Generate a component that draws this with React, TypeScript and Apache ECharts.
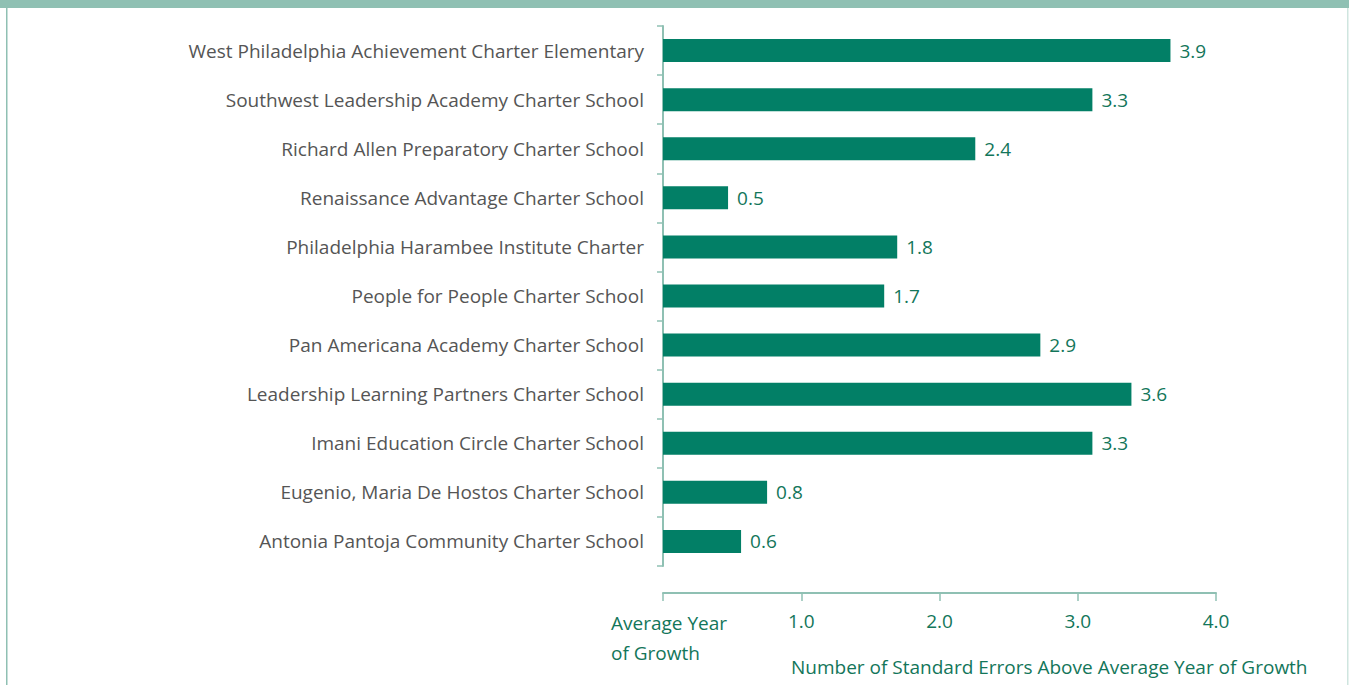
import React, { useEffect, useRef } from "react";
import * as echarts from "echarts";

const schools = [
  "West Philadelphia Achievement Charter Elementary",
  "Southwest Leadership Academy Charter School",
  "Richard Allen Preparatory Charter School",
  "Renaissance Advantage Charter School",
  "Philadelphia Harambee Institute Charter",
  "People for People Charter School",
  "Pan Americana Academy Charter School",
  "Leadership Learning Partners Charter School",
  "Imani Education Circle Charter School",
  "Eugenio, Maria De Hostos Charter School",
  "Antonia Pantoja Community Charter School",
];
const values = [3.9, 3.3, 2.4, 0.5, 1.8, 1.7, 2.9, 3.6, 3.3, 0.8, 0.6];
const tickLabels = ["Average Year\nof Growth", "1.0", "2.0", "3.0", "4.0"];
const axisTitle = "Number of Standard Errors Above Average Year of Growth";

const FONT = "'Open Sans', 'Noto Sans', sans-serif";
const FS = 19;
const TEAL = "#027f66";
const TEXT_TEAL = "#13765a";
const AXIS = "#8fc0b3";

export default function App() {
  const ref = useRef<HTMLDivElement>(null);
  useEffect(() => {
    const chart = echarts.init(ref.current!, undefined, { renderer: "svg" });
    chart.setOption({
      animation: false,
      backgroundColor: "#ffffff",
      grid: { left: 663, width: 553, top: 26, height: 540, containLabel: false },
      xAxis: [
        {
          type: "value",
          min: 0,
          max: 4,
          interval: 1,
          position: "bottom",
          offset: 27,
          axisLine: { show: true, lineStyle: { color: AXIS, width: 2 } },
          axisTick: { show: true, length: 8, lineStyle: { color: AXIS, width: 1.5 } },
          splitLine: { show: false },
          axisLabel: {
            color: TEXT_TEAL,
            fontFamily: FONT,
            fontSize: FS,
            margin: 18,
            formatter: (v: number) => (v === 0 ? "" : tickLabels[Math.round(v)]),
          },
        },
        {
          type: "value",
          min: 0,
          max: 4.25,
          show: false,
        },
      ],
      yAxis: {
        type: "category",
        data: schools,
        inverse: true,
        axisLine: { show: true, lineStyle: { color: AXIS, width: 2 } },
        axisTick: { show: true, length: 6, lineStyle: { color: AXIS, width: 1.5 } },
        axisLabel: { color: "#555555", fontFamily: FONT, fontSize: FS, margin: 19 },
      },
      series: [
        {
          type: "bar",
          xAxisIndex: 1,
          data: values,
          barWidth: 23,
          itemStyle: { color: TEAL },
          label: {
            show: true,
            position: "right",
            distance: 9,
            color: TEXT_TEAL,
            fontFamily: FONT,
            fontSize: FS,
            formatter: (p: any) => Number(p.value).toFixed(1),
          },
        },
      ],
      graphic: [
        { type: "rect", left: 0, top: 0, shape: { width: 1349, height: 8 }, style: { fill: AXIS } },
        { type: "rect", left: 6, top: 8, shape: { width: 1.5, height: 677 }, style: { fill: AXIS } },
        { type: "rect", left: 1347, top: 8, shape: { width: 1.5, height: 677 }, style: { fill: "#cfe5df" } },
        {
          type: "text",
          x: 611,
          y: 623,
          style: {
            text: "Average Year",
            fill: TEXT_TEAL,
            font: `${FS}px ${FONT}`,
            verticalAlign: "middle",
          },
        },
        {
          type: "text",
          x: 611,
          y: 653,
          style: {
            text: "of Growth",
            fill: TEXT_TEAL,
            font: `${FS}px ${FONT}`,
            verticalAlign: "middle",
          },
        },
        {
          type: "text",
          x: 791,
          y: 667,
          style: { text: axisTitle, fill: TEXT_TEAL, font: `${FS}px ${FONT}`, verticalAlign: "middle" },
        },
      ],
    });
    return () => chart.dispose();
  }, []);
  return (
    <div
      ref={ref}
      style={{ position: "fixed", left: 0, top: 0, width: 1349, height: 685 }}
    />
  );
}
